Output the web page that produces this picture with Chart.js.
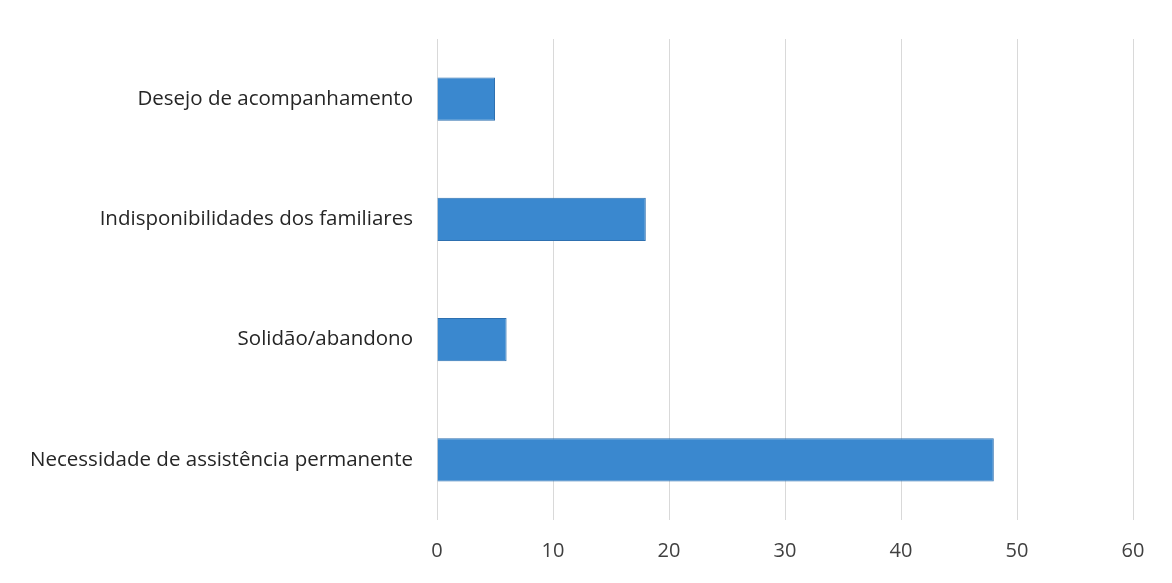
<!DOCTYPE html>
<html>
<head>
<meta charset="utf-8">
<script src="https://cdn.jsdelivr.net/npm/chart.js@4/dist/chart.umd.min.js"></script>
<style>
  html, body { margin: 0; padding: 0; background: #fff; }
  #wrap { width: 1172px; height: 583px; }
</style>
</head>
<body>
<div id="wrap"><canvas id="grafico"></canvas></div>
<script>
// categorias (de cima para baixo) e valores
const categorias = [
  'Desejo de acompanhamento',
  'Indisponibilidades dos familiares',
  'Solidão/abandono',
  'Necessidade de assistência permanente'
]
const valores = [5, 18, 6, 48]
const ticksX = [0, 10, 20, 30, 40, 50, 60]

const config = {
  type: 'bar',
  data: {
    labels: categorias,
    datasets: [{
      data: valores,
      backgroundColor: '#3a88cf',
      borderColor: '#2e70b0',
      borderWidth: 1,
      categoryPercentage: 1,
      barPercentage: 0.36
    }]
  },
  options: {
    indexAxis: 'y',
    responsive: true,
    maintainAspectRatio: false,
    animation: false,
    layout: { padding: { top: 39, right: 39, left: 0, bottom: 0 } },
    plugins: { legend: { display: false }, tooltip: { enabled: false } },
    scales: {
      x: {
        min: ticksX[0],
        max: ticksX[ticksX.length - 1],
        afterBuildTicks: s => { s.ticks = ticksX.map(v => ({ value: v })) },
        afterFit: s => { s.height = 63 },
        grid: { color: '#d9d9d9', drawTicks: false },
        border: { display: false },
        ticks: {
          padding: 19,
          color: '#404040',
          font: { family: 'Open Sans', size: 20 }
        }
      },
      y: {
        afterFit: s => { s.width = 437 },
        grid: { display: false },
        border: { display: false },
        ticks: {
          padding: 16,
          color: '#262626',
          font: { family: 'Open Sans', size: 20.5 }
        }
      }
    }
  }
}

new Chart(document.getElementById('grafico'), config)
</script>
</body>
</html>
